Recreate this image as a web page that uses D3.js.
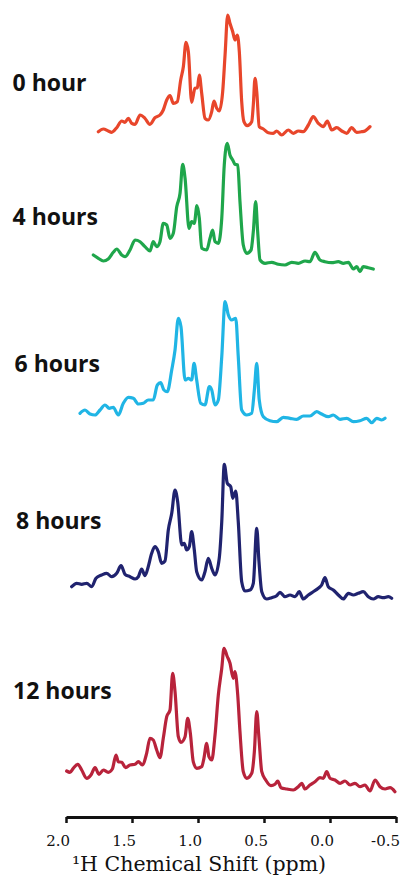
<!DOCTYPE html>
<html><head><meta charset="utf-8">
<script src="https://cdn.jsdelivr.net/npm/d3@7"></script>
<style>html,body{margin:0;padding:0;background:#fff;}svg{display:block;}</style>
</head><body>
<svg id="c" width="403" height="880"></svg>
<script>
// ---- data ----
const seriesLabels = ["0 hour","4 hours","6 hours","8 hours","12 hours"];
const seriesColors = ["#e8462b","#1fa64b","#20b5e5","#20236f","#b8233b"];
const tickValues = [2.0,1.5,1.0,0.5,0.0,-0.5];
const tickLabels = ["2.0","1.5","1.0","0.5","0.0","-0.5"];
const axisTitle = "\u00B9H Chemical Shift (ppm)";

const ppm0h = [1.755,1.717,1.680,1.654,1.616,1.578,1.553,1.528,1.502,1.477,1.439,1.402,1.364,1.326,1.288,1.263,1.237,1.212,1.187,1.157,1.131,1.111,1.091,1.073,1.048,1.023,1.005,0.990,0.972,0.947,0.922,0.896,0.879,0.858,0.839,0.813,0.795,0.775,0.758,0.737,0.720,0.702,0.687,0.669,0.652,0.627,0.593,0.581,0.568,0.555,0.536,0.505,0.467,0.430,0.404,0.366,0.316,0.278,0.240,0.202,0.164,0.127,0.089,0.051,0.020,-0.013,-0.051,-0.089,-0.127,-0.164,-0.202,-0.240,-0.265,-0.303];
const int0h = [0.033,0.06,0.04,0.027,0.073,0.14,0.127,0.167,0.117,0.107,0.20,0.167,0.107,0.173,0.20,0.25,0.35,0.393,0.317,0.333,0.55,0.683,0.927,0.833,0.327,0.467,0.473,0.60,0.417,0.167,0.15,0.233,0.34,0.267,0.24,0.433,0.80,1.20,1.117,1.033,0.95,1.00,0.833,0.333,0.133,0.093,0.133,0.30,0.567,0.433,0.083,0.06,0.023,0.017,0.04,0.0,0.05,0.017,0.04,0.033,0.10,0.183,0.117,0.083,0.14,0.05,0.073,0.04,0.017,0.073,0.027,0.033,0.04,0.083];

const ppm4h = [1.793,1.755,1.717,1.680,1.642,1.616,1.578,1.553,1.515,1.477,1.439,1.402,1.364,1.339,1.313,1.288,1.263,1.237,1.212,1.187,1.161,1.136,1.116,1.098,1.068,1.048,1.028,1.008,0.990,0.972,0.934,0.909,0.889,0.871,0.846,0.820,0.801,0.778,0.758,0.737,0.720,0.699,0.682,0.657,0.631,0.598,0.581,0.563,0.548,0.530,0.492,0.442,0.392,0.341,0.290,0.240,0.189,0.152,0.114,0.076,0.038,-0.013,-0.063,-0.101,-0.139,-0.177,-0.202,-0.227,-0.252,-0.290,-0.328];
const int4h = [0.15,0.117,0.09,0.11,0.177,0.21,0.15,0.133,0.20,0.30,0.283,0.233,0.19,0.283,0.233,0.283,0.467,0.45,0.317,0.367,0.633,0.767,1.057,0.917,0.417,0.483,0.467,0.643,0.517,0.217,0.20,0.317,0.40,0.283,0.267,0.517,1.05,1.267,1.15,1.10,1.057,1.05,0.683,0.25,0.167,0.20,0.383,0.683,0.383,0.10,0.067,0.077,0.057,0.05,0.077,0.067,0.09,0.083,0.177,0.10,0.083,0.073,0.083,0.067,0.077,0.01,0.033,-0.017,0.033,0.023,0.01];

const ppm6h = [1.894,1.856,1.818,1.780,1.742,1.705,1.672,1.642,1.604,1.566,1.528,1.490,1.452,1.414,1.377,1.339,1.308,1.283,1.258,1.233,1.199,1.174,1.149,1.129,1.098,1.073,1.048,1.030,1.010,0.980,0.947,0.914,0.896,0.871,0.846,0.820,0.795,0.770,0.745,0.714,0.695,0.669,0.631,0.593,0.573,0.555,0.536,0.505,0.455,0.404,0.354,0.303,0.252,0.202,0.152,0.101,0.063,0.013,-0.025,-0.076,-0.127,-0.177,-0.227,-0.278,-0.316,-0.354,-0.392,-0.417];
const int6h = [0.087,0.12,0.08,0.07,0.12,0.17,0.137,0.147,0.07,0.187,0.247,0.237,0.18,0.187,0.22,0.22,0.37,0.393,0.32,0.303,0.52,0.72,1.037,0.953,0.42,0.437,0.42,0.587,0.42,0.187,0.17,0.353,0.32,0.17,0.22,0.653,1.203,1.07,1.02,1.037,0.653,0.12,0.07,0.087,0.32,0.587,0.22,0.053,0.013,0.003,0.047,0.037,0.027,0.06,0.06,0.103,0.08,0.053,0.07,0.027,0.037,0.003,0.013,0.037,-0.007,0.037,0.02,0.037];

const ppm8h = [1.957,1.919,1.881,1.843,1.805,1.773,1.730,1.692,1.654,1.616,1.583,1.553,1.515,1.477,1.452,1.427,1.402,1.377,1.351,1.326,1.301,1.275,1.250,1.225,1.199,1.174,1.154,1.123,1.104,1.086,1.066,1.048,1.028,1.010,0.972,0.947,0.922,0.896,0.871,0.839,0.820,0.801,0.778,0.752,0.737,0.714,0.695,0.669,0.644,0.606,0.581,0.555,0.538,0.517,0.480,0.442,0.404,0.379,0.341,0.303,0.265,0.233,0.202,0.164,0.127,0.089,0.063,0.038,0.013,-0.025,-0.063,-0.101,-0.139,-0.177,-0.214,-0.252,-0.290,-0.328,-0.366,-0.404,-0.442,-0.467];
const int8h = [0.133,0.167,0.157,0.167,0.133,0.217,0.25,0.267,0.233,0.267,0.343,0.257,0.233,0.21,0.233,0.31,0.243,0.333,0.467,0.533,0.483,0.367,0.39,0.70,0.867,1.10,0.983,0.55,0.567,0.50,0.533,0.683,0.50,0.283,0.20,0.283,0.417,0.317,0.25,0.417,0.783,1.357,1.167,1.133,1.017,1.09,0.783,0.183,0.09,0.10,0.167,0.717,0.383,0.083,0.01,0.023,0.043,0.077,0.033,0.05,0.033,0.083,0.01,0.05,0.083,0.117,0.15,0.223,0.133,0.10,0.05,0.01,0.067,0.05,0.067,0.083,0.033,0.01,0.033,0.023,0.033,0.017];

const ppm12h = [1.995,1.970,1.945,1.911,1.881,1.843,1.811,1.780,1.750,1.717,1.680,1.649,1.621,1.604,1.578,1.548,1.515,1.477,1.452,1.422,1.389,1.364,1.339,1.313,1.288,1.263,1.237,1.212,1.192,1.174,1.149,1.129,1.098,1.078,1.058,1.036,1.010,0.972,0.955,0.934,0.917,0.896,0.871,0.846,0.820,0.803,0.780,0.758,0.733,0.720,0.699,0.682,0.657,0.631,0.593,0.573,0.555,0.538,0.517,0.487,0.447,0.417,0.396,0.371,0.328,0.278,0.240,0.214,0.189,0.152,0.114,0.076,0.051,0.025,0.000,-0.038,-0.076,-0.114,-0.152,-0.189,-0.227,-0.265,-0.303,-0.341,-0.379,-0.417,-0.455,-0.492];
const int12h = [0.21,0.197,0.237,0.277,0.22,0.137,0.17,0.243,0.177,0.22,0.197,0.23,0.37,0.303,0.297,0.243,0.27,0.277,0.303,0.27,0.387,0.537,0.52,0.42,0.343,0.537,0.753,0.82,1.187,1.003,0.553,0.497,0.553,0.737,0.587,0.303,0.237,0.253,0.337,0.487,0.353,0.32,0.57,0.97,1.237,1.437,1.36,1.29,1.137,1.203,0.97,0.603,0.203,0.137,0.187,0.403,0.803,0.537,0.203,0.12,0.063,0.077,0.11,0.043,0.03,0.02,0.053,0.087,0.03,0.07,0.103,0.143,0.137,0.203,0.137,0.12,0.087,0.11,0.07,0.087,0.053,0.07,0.01,0.12,0.053,0.03,0.043,0.003];

const seriesPpm = [ppm0h, ppm4h, ppm6h, ppm8h, ppm12h];
const seriesInt = [int0h, int4h, int6h, int8h, int12h];

// ---- layout ----
const svg = d3.select("#c");
const x = d3.scaleLinear().domain([2.0, -0.5]).range([66, 396]);
const y = d3.scaleLinear().domain([0, 1]).range([0, -100]);
const baselines = [135, 270, 422, 600, 792];
const labelPos = [[12.5, 91], [12.5, 225], [14.5, 371.5], [16, 529], [13, 699]];

const line = d3.line().x(d => x(d[0])).y(d => y(d[1])).curve(d3.curveMonotoneX);

seriesLabels.forEach((lab, i) => {
  const pts = seriesPpm[i].map((p, j) => [p, seriesInt[i][j]]);
  const g = svg.append("g").attr("transform", `translate(0,${baselines[i]})`);
  g.append("path").datum(pts).attr("d", line)
    .attr("fill", "none").attr("stroke", seriesColors[i])
    .attr("stroke-width", 3.2).attr("stroke-linejoin", "round").attr("stroke-linecap", "round");
  svg.append("text").attr("x", labelPos[i][0]).attr("y", labelPos[i][1])
    .attr("font-family", "'Open Sans', sans-serif").attr("font-weight", 700)
    .attr("font-size", 23).attr("fill", "#111").text(lab);
});

const axis = d3.axisBottom(x).tickValues(tickValues)
  .tickFormat((d, i) => tickLabels[i]).tickSize(6).tickSizeOuter(0);
const ag = svg.append("g").attr("transform", "translate(0,817)").call(axis);
ag.select(".domain").attr("stroke", "#111").attr("stroke-width", 3);
ag.selectAll(".tick line").attr("stroke", "#111").attr("stroke-width", 2.5);
ag.selectAll(".tick text").attr("font-family", "'DejaVu Serif', serif")
  .attr("font-size", 15).attr("fill", "#111").attr("text-anchor", "end")
  .attr("dx", 3.5).attr("y", 29).attr("dy", 0);

svg.append("text").attr("x", 199).attr("y", 871).attr("text-anchor", "middle")
  .attr("font-family", "'DejaVu Serif', serif").attr("font-size", 20.5)
  .attr("fill", "#111").text(axisTitle);
</script>
</body></html>
